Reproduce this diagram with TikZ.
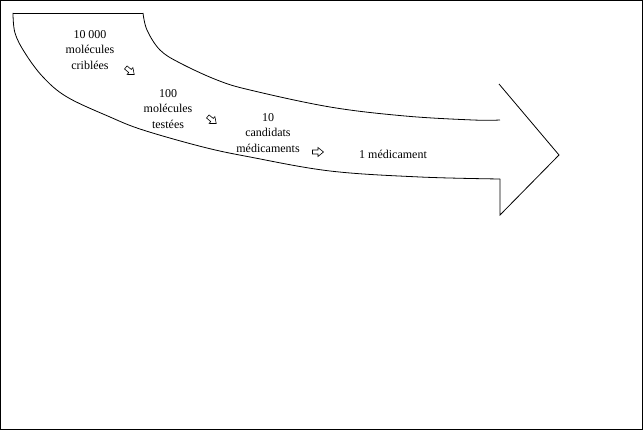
\documentclass[tikz,border=0pt]{standalone}
\usepackage{fontspec}
\setmainfont{Liberation Serif}
\begin{document}
\begin{tikzpicture}[x=1pt,y=-1pt,
  lbl/.style={align=center,font=\fontsize{12}{15.5}\selectfont,inner sep=0pt},
  hollow/.pic={\draw[line width=0.6pt,line join=miter] (-5.5,-2) -- (0,-2) -- (0,-4.5) -- (5.5,0) -- (0,4.5) -- (0,2) -- (-5.5,2) -- cycle;},
  outline/.style={line width=0.8pt}]
\useasboundingbox (0,0) rectangle (643,430);
\draw[line width=1pt] (0.5,0.5) rectangle (642.5,429.5);
% big curved arrow
\draw[outline] plot[smooth,tension=0.6] coordinates {(13,13) (15,33) (25,53) (43,77) (67,97) (110,117) (143,130) (203,147) (250,157) (330,171) (420,177) (500,179)};
\draw[outline] plot[smooth,tension=0.6] coordinates {(143,13) (147,30) (160,50) (180,63) (217,80) (250,90) (330,107) (405,116) (473,120) (500,120)};
\draw[outline] (13,13) -- (143,13);
\draw[outline] (500,179) -- (500,215) -- (559,155) -- (499,84);
% texts
\node[lbl] (t1) at (90,50) {10 000\\molécules\\criblées};
\node[lbl] (t2) at (168,109) {100\\molécules\\testées};
\node[lbl] (t3) at (268,133) {10\\candidats\\médicaments};
\node[lbl] (t4) at (393,154) {1 médicament};
% small arrows
\pic[rotate=-40] (a1) at (130,71) {hollow};
\pic[rotate=-40] (a2) at (212,120) {hollow};
\pic (a3) at (318,152) {hollow};
\end{tikzpicture}
\end{document}
